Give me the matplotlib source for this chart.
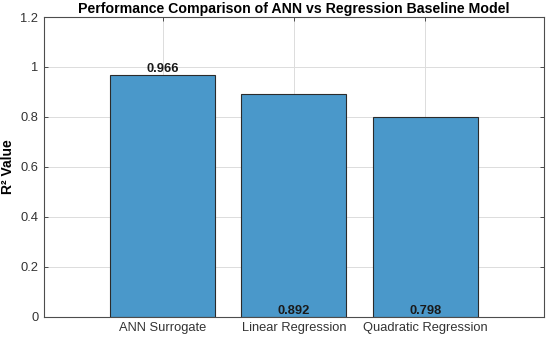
import matplotlib
matplotlib.use("Agg")
import matplotlib.pyplot as plt

# Data
models = ['ANN Surrogate', 'Linear Regression', 'Quadratic Regression']
r2_values = [0.966, 0.892, 0.798]
label_y = [0.966, 0.0, 0.0]  # where the value labels ended up in the original
y_ticks = [0, 0.2, 0.4, 0.6, 0.8, 1.0, 1.2]
y_tick_labels = ['0', '0.2', '0.4', '0.6', '0.8', '1', '1.2']

plt.rcParams['font.family'] = ['Liberation Sans', 'DejaVu Sans']

fig = plt.figure(figsize=(5.5, 3.4), dpi=100)
ax = fig.add_axes([0.08, 0.068, 0.909, 0.882])

x = [1, 2, 3]
ax.bar(x, r2_values, width=0.8, color='#4A98CA', edgecolor='#2b2b2b',
       linewidth=0.8, zorder=2)

for xi, v, ly in zip(x, r2_values, label_y):
    ax.text(xi, ly, f'{v:.3f}', ha='center', va='bottom',
            fontsize=9.3, fontweight='bold', color='#1a1a1a', zorder=3)

ax.set_xlim(0.095, 3.905)
ax.set_ylim(0, 1.2)
ax.set_xticks(x)
ax.set_xticklabels(models)
ax.set_yticks(y_ticks)
ax.set_yticklabels(y_tick_labels)

ax.grid(True, color='#dcdcdc', linewidth=0.7, zorder=0)
ax.set_axisbelow(True)
ax.tick_params(direction='in', top=True, right=True, length=3,
               labelsize=9.3, colors='#333333', width=0.6, pad=4)
for s in ax.spines.values():
    s.set_color('#4d4d4d')
    s.set_linewidth(0.8)

ax.set_ylabel('R² Value', fontsize=10, fontweight='bold', labelpad=4)
ax.set_title('Performance Comparison of ANN vs Regression Baseline Model',
             fontsize=10.2, fontweight='bold', pad=3)

fig.savefig('out.png', dpi=100)
